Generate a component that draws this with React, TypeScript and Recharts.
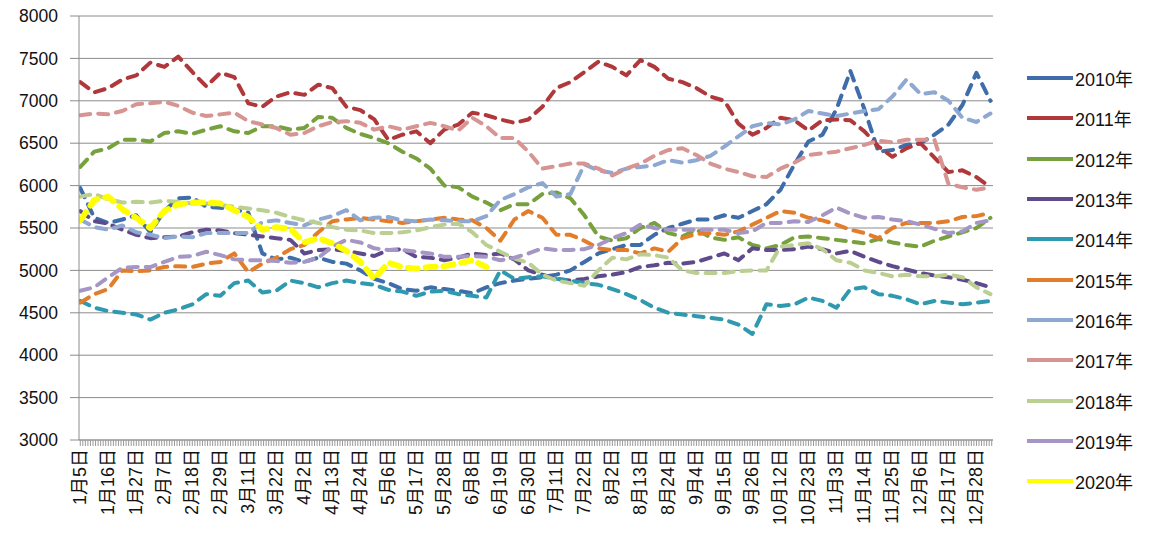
import { CartesianGrid, Line, LineChart, XAxis, YAxis } from "recharts";

// one tick label every 11 days on the category axis
const tickLabels = [
  "1月5日", "1月16日", "1月27日", "2月7日", "2月18日", "2月29日", "3月11日", "3月22日",
  "4月2日", "4月13日", "4月24日", "5月6日", "5月17日", "5月28日", "6月8日", "6月19日",
  "6月30日", "7月11日", "7月22日", "8月2日", "8月13日", "8月24日", "9月4日", "9月15日",
  "9月26日", "10月12日", "10月23日", "11月3日", "11月14日", "11月25日", "12月6日", "12月17日",
  "12月28日",
];
const yTicks = [3000, 3500, 4000, 4500, 5000, 5500, 6000, 6500, 7000, 7500, 8000];

const CATEGORY_COUNT = 359;
const LABEL_EVERY = 11;
const SAMPLE_STEP = 5.5; // values below are read every half label interval

const y2010 = [
  5970, 5620, 5560, 5600, 5650, 5450, 5700, 5850, 5860, 5750,
  5740, 5720, 5680, 5200, 5130, 5150, 5100, 5150, 5100, 5080,
  5000, 4900, 4850, 4780, 4760, 4800, 4780, 4760, 4730, 4800,
  4850, 4880, 4900, 4920, 4950, 5000, 5100, 5200, 5250, 5300,
  5300, 5420, 5500, 5550, 5600, 5600, 5650, 5620, 5700, 5780,
  5950, 6250, 6520, 6600, 6900, 7350, 6900, 6400, 6420, 6480,
  6500, 6600, 6720, 6950, 7330, 7000,
];
const y2011 = [
  7220, 7100, 7150, 7250, 7300, 7450, 7400, 7520, 7340, 7170,
  7330, 7280, 6970, 6930, 7050, 7100, 7070, 7190, 7150, 6930,
  6890, 6780, 6540, 6600, 6640, 6500, 6660, 6720, 6860, 6830,
  6780, 6740, 6780, 6930, 7150, 7220, 7340, 7460, 7400, 7300,
  7480, 7400, 7260, 7220, 7150, 7050, 7000, 6730, 6600, 6680,
  6800, 6770, 6650, 6770, 6780, 6770, 6640, 6460, 6340, 6440,
  6500, 6330, 6160, 6180, 6100, 5980,
];
const y2012 = [
  6220, 6400, 6440, 6540, 6540, 6520, 6620, 6640, 6610, 6660,
  6700, 6640, 6620, 6700, 6700, 6660, 6680, 6810, 6800, 6680,
  6610, 6560, 6500, 6400, 6320, 6200, 6000, 5980, 5870, 5800,
  5710, 5780, 5780, 5900, 5920, 5850, 5650, 5400, 5350, 5380,
  5500, 5560, 5440, 5400, 5480, 5390, 5360, 5390, 5300, 5260,
  5300, 5390, 5400, 5380, 5360, 5340, 5320, 5370, 5330, 5300,
  5280, 5350, 5400, 5450, 5500, 5620,
];
const y2013 = [
  5700, 5580, 5550, 5480, 5420, 5380, 5390, 5400, 5450, 5480,
  5470, 5440, 5420, 5400, 5380, 5360, 5200, 5240, 5250, 5230,
  5200, 5170, 5240, 5250, 5160, 5150, 5120, 5150, 5200, 5180,
  5200, 5130, 5000, 4950, 4900, 4880, 4900, 4930, 4950, 4980,
  5040, 5060, 5090, 5080, 5100, 5150, 5200, 5120, 5260, 5240,
  5240, 5250, 5280, 5250, 5200, 5230, 5160, 5100, 5050, 5010,
  4970, 4940, 4920, 4890, 4850, 4800,
];
const y2014 = [
  4640, 4560, 4520, 4500, 4480, 4420, 4500, 4540, 4600, 4720,
  4700, 4850, 4880, 4740, 4760, 4880, 4850, 4800, 4850, 4880,
  4850, 4830, 4770, 4750, 4700, 4750, 4760, 4720, 4700, 4680,
  5000, 4900, 4920, 4930, 4900, 4880, 4850, 4830, 4780, 4720,
  4650, 4560, 4500, 4480, 4460, 4440, 4420, 4360, 4250, 4600,
  4580, 4600, 4680, 4640, 4560, 4780, 4800, 4720, 4700, 4660,
  4600, 4640, 4620, 4600, 4620, 4640,
];
const y2015 = [
  4620, 4720, 4780, 5000, 4990, 5000, 5040, 5050, 5040, 5080,
  5100, 5200, 4980, 5080, 5150, 5250, 5300, 5450, 5580, 5600,
  5620, 5600, 5580, 5560, 5580, 5600, 5620, 5600, 5590, 5500,
  5350, 5600, 5700, 5620, 5420, 5420, 5350, 5260, 5240, 5240,
  5200, 5260, 5220, 5380, 5430, 5440, 5420, 5460, 5540, 5620,
  5700, 5680, 5620, 5590, 5540, 5480, 5440, 5380, 5500, 5560,
  5560, 5560, 5580, 5630, 5640, 5680,
];
const y2016 = [
  5600, 5510, 5480, 5530, 5450, 5420, 5380, 5400, 5390, 5440,
  5440, 5440, 5440, 5570, 5590, 5560, 5530, 5600, 5640, 5710,
  5590, 5620, 5630, 5590, 5580, 5600, 5590, 5580, 5580, 5640,
  5830, 5900, 5980, 6030, 5870, 5900, 6250, 6180, 6150, 6200,
  6220, 6240, 6300, 6270, 6300, 6350, 6460, 6580, 6700, 6740,
  6720, 6780, 6880, 6850, 6820, 6850, 6880, 6900, 7050, 7250,
  7080, 7100, 7000, 6800, 6750, 6850,
];
const y2017 = [
  6830, 6850, 6840, 6880, 6960, 6970, 6990, 6940, 6860, 6820,
  6840, 6860, 6760, 6720, 6680, 6600, 6620, 6700, 6750, 6760,
  6740, 6660, 6700, 6660, 6700, 6740, 6700, 6650, 6800, 6700,
  6560, 6560, 6400, 6200, 6230, 6260, 6260, 6200, 6120, 6200,
  6260, 6350, 6420, 6440, 6360, 6260, 6200, 6160, 6110, 6100,
  6200, 6270, 6360, 6380, 6400, 6440, 6480, 6530, 6510, 6540,
  6540, 6540, 6020, 5980, 5950, 5980,
];
const y2018 = [
  5870, 5900, 5840, 5800, 5810, 5800, 5820, 5810, 5790, 5790,
  5770, 5750, 5730, 5710, 5680, 5630, 5590, 5560, 5510, 5480,
  5470, 5440, 5440, 5450, 5470, 5510, 5540, 5550, 5450, 5300,
  5220, 5140, 5090, 4950, 4880, 4850, 4820, 5000, 5150, 5130,
  5190, 5180, 5150, 5000, 4970, 4970, 4970, 4990, 5000, 5000,
  5280, 5300, 5320, 5250, 5120, 5090, 5000, 4970, 4930, 4950,
  4930, 4930, 4950, 4920, 4800, 4720,
];
const y2019 = [
  4760, 4800, 4920, 5030, 5040, 5040, 5100, 5160, 5170, 5220,
  5180, 5130, 5120, 5120, 5110, 5090, 5100, 5150, 5280, 5360,
  5330, 5260, 5240, 5240, 5220, 5200, 5160, 5160, 5170, 5160,
  5120, 5150, 5200, 5260, 5240, 5240, 5250, 5300, 5380, 5440,
  5540, 5500, 5480, 5480, 5480, 5480, 5480, 5440, 5460, 5560,
  5560, 5580, 5570, 5650, 5740, 5670, 5620, 5630, 5600, 5580,
  5540, 5490, 5440, 5460, 5560, 5590,
];
// 2020 stops in June
const y2020 = [
  5590, 5830, 5870, 5720, 5620, 5500, 5700, 5780, 5800, 5800,
  5790, 5710, 5630, 5480, 5510, 5490, 5330, 5380, 5320, 5230,
  5100, 4900, 5090, 5040, 5020, 5040, 5050, 5080, 5120, 5040,
];

const series = [
  { name: "2010年", values: y2010, color: "#3F6DAA" },
  { name: "2011年", values: y2011, color: "#B0383A" },
  { name: "2012年", values: y2012, color: "#77A13D" },
  { name: "2013年", values: y2013, color: "#5F4B8B" },
  { name: "2014年", values: y2014, color: "#2F9AAF" },
  { name: "2015年", values: y2015, color: "#E27D2B" },
  { name: "2016年", values: y2016, color: "#8EA8D1" },
  { name: "2017年", values: y2017, color: "#D69593" },
  { name: "2018年", values: y2018, color: "#BACF91" },
  { name: "2019年", values: y2019, color: "#A596C5" },
  { name: "2020年", values: y2020, color: "#FFFF00" },
];

const rows = y2010.map((_, k) => {
  const row: Record<string, number | null> = { x: k * SAMPLE_STEP };
  series.forEach((s) => {
    row[s.name] = s.values[k] ?? null;
  });
  return row;
});

const allTicks = Array.from({ length: CATEGORY_COUNT }, (_, i) => i);

const FONT = "'Liberation Sans', 'Noto Sans CJK SC', sans-serif";

function DateTick(props: any) {
  const { x, y, payload } = props;
  const i = payload.value;
  if (i % LABEL_EVERY !== 0 || i / LABEL_EVERY >= tickLabels.length) return null;
  return (
    <text
      x={x}
      y={y}
      transform={`rotate(-90 ${x} ${y})`}
      textAnchor="end"
      dominantBaseline="central"
      fontSize={18}
      fontFamily={FONT}
      fill="#111"
    >
      {tickLabels[i / LABEL_EVERY]}
    </text>
  );
}

function YearLegend() {
  return (
    <div style={{ position: "absolute", left: 1027, top: 58, fontFamily: FONT }}>
      {series.map((s) => (
        <div
          key={s.name}
          style={{ display: "flex", alignItems: "center", height: 40.3, fontSize: 18, color: "#111" }}
        >
          <span style={{ display: "inline-block", width: 46, height: 4, background: s.color, marginRight: 2 }} />
          {s.name}
        </div>
      ))}
    </div>
  );
}

export default function App() {
  return (
    <div style={{ position: "absolute", left: 0, top: 0, width: 1151, height: 545, background: "#fff" }}>
      <LineChart
        width={1151}
        height={545}
        data={rows}
        margin={{ top: 16, right: 158, left: 0, bottom: 0 }}
      >
        <CartesianGrid horizontal vertical={false} stroke="#8c8c8c" strokeWidth={1} />
        <XAxis
          dataKey="x"
          type="number"
          domain={[-0.5, CATEGORY_COUNT - 0.5]}
          ticks={allTicks}
          interval={0}
          height={105}
          tickSize={6}
          tickMargin={3}
          stroke="#999"
          tick={DateTick}
          allowDataOverflow
        />
        <YAxis
          domain={[3000, 8000]}
          ticks={yTicks}
          interval={0}
          width={79}
          tickSize={9}
          tickMargin={12}
          stroke="#8c8c8c"
          tick={{ fontSize: 17.5, fill: "#111", fontFamily: FONT }}
        />
        {series.map((s) => {
          const isLatest = s.name === "2020年";
          return (
            <Line
              key={s.name}
              dataKey={s.name}
              type="linear"
              stroke={s.color}
              strokeWidth={isLatest ? 6 : 4}
              strokeDasharray="10 8"
              strokeLinecap="round"
              strokeLinejoin="round"
              dot={false}
              activeDot={false}
              connectNulls={false}
              isAnimationActive={false}
            />
          );
        })}
      </LineChart>
      <YearLegend />
    </div>
  );
}
